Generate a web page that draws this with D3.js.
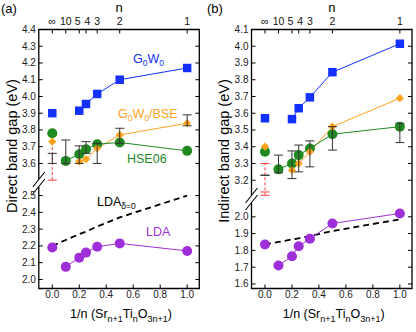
<!DOCTYPE html>
<html>
<head>
<meta charset="utf-8">
<script src="https://cdn.jsdelivr.net/npm/d3@7"></script>
<style>
  body { margin: 0; background: #fff; }
  svg { font-family: "Liberation Sans", Arial, sans-serif; }
</style>
</head>
<body>
<div class="chart"></div>
<script>
// x positions (1/n) and top axis n labels
var invN = [0, 0.1, 0.2, 0.25, 0.333, 0.5, 1.0];
var nLabels = ["\u221e", "10", "5", "4", "3", "2", "1"];
var xTicks = [0, 0.2, 0.4, 0.6, 0.8, 1.0];

// (a) direct gap
var directG0W0 = [3.90, null, 3.915, 3.955, 4.015, 4.10, 4.17];
var directBSE = [3.73, null, 3.61, 3.625, 3.69, 3.77, 3.84];
var directHSE = [3.78, 3.615, 3.655, 3.685, 3.715, 3.725, 3.675];
var directLDA = [2.19, 2.075, 2.13, 2.16, 2.195, 2.215, 2.17];
var directLDA0 = [2.20, 2.235, 2.27, 2.285, 2.315, 2.37, 2.50];
var directErrLo = [3.60, 3.60, 3.60, 3.66, 3.60, 3.72, 3.825];
var directErrHi = [3.66, 3.74, 3.705, 3.73, 3.72, 3.81, 3.89];
var directExp = [3.50, 3.77];
var directTicksLow = [2.0, 2.1, 2.2, 2.3, 2.4, 2.5];
var directTicksHigh = [3.6, 3.7, 3.8, 3.9, 4.0, 4.1, 4.2, 4.3, 4.4];

// (b) indirect gap
var indirectG0W0 = [3.57, null, 3.565, 3.63, 3.695, 3.845, 4.015];
var indirectBSE = [3.40, null, 3.26, 3.30, 3.37, 3.52, 3.69];
var indirectHSE = [3.37, 3.265, 3.30, 3.35, 3.39, 3.475, 3.52];
var indirectLDA = [1.835, 1.71, 1.765, 1.825, 1.87, 1.96, 2.02];
var indirectLDA0 = [1.835, 1.85, 1.865, 1.872, 1.885, 1.915, 1.985];
var indirectErrLo = [3.23, 3.245, 3.21, 3.25, 3.28, 3.38, 3.425];
var indirectErrHi = [3.23, 3.35, 3.375, 3.41, 3.435, 3.52, 3.54];
var indirectExp = [3.11, 3.13, 3.30];
var indirectTicksLow = [1.6, 1.7, 1.8, 1.9, 2.0];
var indirectTicksHigh = [3.2, 3.3, 3.4, 3.5, 3.6, 3.7, 3.8, 3.9, 4.0, 4.1];

var blue = "#1230ff", orange = "#ffa21c", green = "#1f8a1f", purple = "#9e2ed8";
var errColor = "#333", expColor = "#ff3b3b";

var svg = d3.select(".chart").append("svg")
    .attr("width", 416).attr("height", 332);

var plotTop = 29.5, plotBottom = 288.5;

function drawPanel(p) {
    var left = p.left, right = p.left + 160.5;
    var x = d3.scaleLinear().domain([-0.1, 1.09]).range([left, right]);
    var y = d3.scaleLinear().domain(p.yDomain).range([plotBottom, p.breakY, p.breakY, plotTop]);
    var g = svg.append("g");

    // frame with a broken left spine
    g.append("path")
        .attr("d", "M" + left + "," + (p.breakY - 4) + "V" + plotTop + "H" + right + "V" + plotBottom + "H" + left + "V" + (p.breakY + 4))
        .attr("fill", "none").attr("stroke", "#000").attr("stroke-width", 1.3);
    [-3.5, 3.5].forEach(function(o) {
        g.append("line")
            .attr("x1", left - 6).attr("y1", p.breakY + o + 7.5)
            .attr("x2", left + 6).attr("y2", p.breakY + o - 7.5)
            .attr("stroke", "#000").attr("stroke-width", 1.1);
    });

    // y ticks (inward, both sides)
    var yt = p.ticksLow.concat(p.ticksHigh);
    yt.forEach(function(v) {
        g.append("line").attr("x1", left).attr("x2", left + 4)
            .attr("y1", y(v)).attr("y2", y(v)).attr("stroke", "#000");
        g.append("line").attr("x1", right - 4).attr("x2", right)
            .attr("y1", y(v)).attr("y2", y(v)).attr("stroke", "#000");
        g.append("text").attr("x", left - 3).attr("y", y(v) + 3.5)
            .attr("text-anchor", "end").attr("font-size", 10).attr("fill", "#222")
            .text(d3.format(".1f")(v));
    });

    // bottom ticks
    xTicks.forEach(function(v) {
        g.append("line").attr("x1", x(v)).attr("x2", x(v))
            .attr("y1", plotBottom).attr("y2", plotBottom - 4).attr("stroke", "#000");
        g.append("text").attr("x", x(v)).attr("y", 298)
            .attr("text-anchor", "middle").attr("font-size", 10).attr("fill", "#222")
            .text(d3.format(".1f")(v));
    });

    // top n ticks
    invN.forEach(function(v, i) {
        g.append("line").attr("x1", x(v)).attr("x2", x(v))
            .attr("y1", plotTop).attr("y2", plotTop + 4).attr("stroke", "#000");
        var dx = nLabels[i] == "5" ? -1.5 : (nLabels[i] == "4" ? 1.5 : 0);
        g.append("text").attr("x", x(v) + dx).attr("y", 25)
            .attr("text-anchor", "middle").attr("font-size", nLabels[i] == "\u221e" ? 11 : 10.5)
            .attr("fill", "#111").text(nLabels[i]);
    });
    g.append("text").attr("x", (left + right) / 2).attr("y", 12)
        .attr("text-anchor", "middle").attr("font-size", 13).text("n");

    // panel letter
    g.append("text").attr("x", p.letterX).attr("y", 13).attr("font-size", 13).text(p.letter);

    // y title
    g.append("text")
        .attr("transform", "translate(" + p.ytX + "," + p.ytY + ") rotate(-90)")
        .attr("text-anchor", "middle").attr("font-size", 14.5).text(p.yTitle);

    // x title with subscripts
    var xt = g.append("text").attr("x", (left + right) / 2 + 2).attr("y", 318)
        .attr("text-anchor", "middle").attr("font-size", 12.5);
    [["1/n (Sr", 0], ["n+1", 1], ["Ti", 0], ["n", 1], ["O", 0], ["3n+1", 1], [")", 0]].forEach(function(s, i, a) {
        var prevSub = i > 0 && a[i - 1][1];
        xt.append("tspan")
            .attr("dy", s[1] ? 3.5 : (prevSub ? -3.5 : 0))
            .attr("font-size", s[1] ? 9 : 12.5).text(s[0]);
    });

    var pts = function(arr) {
        return arr.map(function(v, i) { return { x: invN[i], v: v, i: i }; })
            .filter(function(d) { return d.v != null; });
    };
    var line = d3.line().x(function(d) { return x(d.x); }).y(function(d) { return y(d.v); });

    // LDA delta=0 dashed
    g.append("path").datum(pts(p.lda0)).attr("d", line)
        .attr("fill", "none").attr("stroke", "#000").attr("stroke-width", 1.8)
        .attr("stroke-dasharray", "6,4");

    // connecting lines (skip the isolated n=inf point)
    [[p.g0w0, blue], [p.bse, orange], [p.hse, green], [p.lda, purple]].forEach(function(s) {
        g.append("path").datum(pts(s[0]).filter(function(d) { return d.i > 0; }))
            .attr("d", line).attr("fill", "none").attr("stroke", s[1]).attr("stroke-width", 1);
    });

    // experimental range (red dashed)
    var e0 = d3.min(p.exp), e1 = d3.max(p.exp);
    g.append("line").attr("x1", x(0)).attr("x2", x(0))
        .attr("y1", y(e0)).attr("y2", y(e1))
        .attr("stroke", expColor).attr("stroke-dasharray", "3,2");
    p.exp.forEach(function(v) {
        g.append("line").attr("x1", x(0) - 4.5).attr("x2", x(0) + 4.5)
            .attr("y1", y(v)).attr("y2", y(v)).attr("stroke", expColor);
    });

    // markers
    var sym = d3.symbol();
    g.selectAll(".sq").data(pts(p.g0w0)).enter().append("path")
        .attr("d", sym.type(d3.symbolSquare).size(72)())
        .attr("transform", function(d) { return "translate(" + x(d.x) + "," + y(d.v) + ")"; })
        .attr("fill", blue);
    g.selectAll(".hse").data(pts(p.hse)).enter().append("circle")
        .attr("cx", function(d) { return x(d.x); }).attr("cy", function(d) { return y(d.v); })
        .attr("r", 5).attr("fill", green);
    g.selectAll(".dia").data(pts(p.bse)).enter().append("path")
        .attr("d", d3.symbol().type(d3.symbolSquare).size(34)())
        .attr("transform", function(d) { return "translate(" + x(d.x) + "," + y(d.v) + ") rotate(45)"; })
        .attr("fill", orange);
    g.selectAll(".lda").data(pts(p.lda)).enter().append("circle")
        .attr("cx", function(d) { return x(d.x); }).attr("cy", function(d) { return y(d.v); })
        .attr("r", 5).attr("fill", purple);

    // error bars
    p.errLo.forEach(function(lo, i) {
        var hi = p.errHi[i], cx = x(invN[i]);
        g.append("line").attr("x1", cx).attr("x2", cx).attr("y1", y(lo)).attr("y2", y(hi))
            .attr("stroke", errColor).attr("stroke-width", 1);
        [lo, hi].forEach(function(v) {
            g.append("line").attr("x1", cx - 4.5).attr("x2", cx + 4.5)
                .attr("y1", y(v)).attr("y2", y(v)).attr("stroke", errColor);
        });
    });

    return { x: x, y: y, g: g };
}

var a = drawPanel({
    left: 38.8, letter: "(a)", letterX: 1, yTitle: "Direct band gap (eV)", ytX: 16.5, ytY: 146,
    yDomain: [1.946, 2.575, 3.483, 4.4], breakY: 183,
    ticksLow: directTicksLow, ticksHigh: directTicksHigh,
    g0w0: directG0W0, bse: directBSE, hse: directHSE, lda: directLDA, lda0: directLDA0,
    errLo: directErrLo, errHi: directErrHi, exp: directExp
});

drawPanel({
    left: 251.5, letter: "(b)", letterX: 207, yTitle: "Indirect band gap (eV)", ytX: 229, ytY: 151,
    yDomain: [1.573, 2.106, 3.088, 4.1], breakY: 199,
    ticksLow: indirectTicksLow, ticksHigh: indirectTicksHigh,
    g0w0: indirectG0W0, bse: indirectBSE, hse: indirectHSE, lda: indirectLDA, lda0: indirectLDA0,
    errLo: indirectErrLo, errHi: indirectErrHi, exp: indirectExp
});

// series labels in panel (a)
function subLabel(g, xp, yp, parts, color) {
    var t = g.append("text").attr("x", xp).attr("y", yp).attr("fill", color).attr("font-size", 12.5);
    parts.forEach(function(s, i, arr) {
        var prevSub = i > 0 && arr[i - 1][1];
        t.append("tspan").attr("dy", s[1] ? 3 : (prevSub ? -3 : 0))
            .attr("font-size", s[1] ? 8.5 : 12.5).text(s[0]);
    });
}
subLabel(a.g, 133, 63, [["G", 0], ["0", 1], ["W", 0], ["0", 1]], blue);
subLabel(a.g, 118, 118, [["G", 0], ["0", 1], ["W", 0], ["0", 1], ["/BSE", 0]], orange);
subLabel(a.g, 127, 163, [["HSE06", 0]], green);
subLabel(a.g, 97, 205.5, [["LDA", 0], ["\u03b4=0", 1]], "#000");
subLabel(a.g, 146, 236, [["LDA", 0]], purple);
</script>
</body>
</html>
